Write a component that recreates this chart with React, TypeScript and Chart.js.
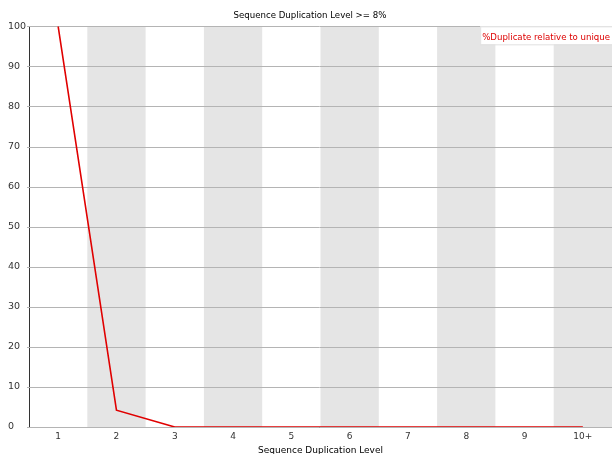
import React, { useEffect, useRef } from "react";
import { Chart, registerables } from "chart.js";

Chart.register(...registerables);

const categories = ["1", "2", "3", "4", "5", "6", "7", "8", "9", "10+"];
const duplicateRelative = [100, 4.2, 0, 0, 0, 0, 0, 0, 0, 0];
const yTicks = [0, 10, 20, 30, 40, 50, 60, 70, 80, 90, 100];
const titleText = "Sequence Duplication Level >= 8%";
const xTitleText = "Sequence Duplication Level";
const seriesLabel = "%Duplicate relative to unique";

const FONT = "'DejaVu Sans', sans-serif";

const bandsPlugin = {
  id: "bands",
  beforeDatasetsDraw(chart: any) {
    const { ctx, chartArea, scales } = chart;
    const x = scales.x;
    ctx.save();
    ctx.fillStyle = "#e5e5e5";
    categories.forEach((_, i) => {
      if (i % 2 === 1) {
        const c = x.getPixelForValue(i);
        const half = (x.getPixelForValue(1) - x.getPixelForValue(0)) / 2;
        ctx.fillRect(c - half, chartArea.top, half * 2, chartArea.bottom - chartArea.top);
      }
    });
    const y = scales.y;
    ctx.strokeStyle = "#b4b4b4";
    ctx.lineWidth = 1;
    yTicks.forEach((t) => {
      const py = Math.round(y.getPixelForValue(t)) + 0.5;
      ctx.beginPath();
      ctx.moveTo(chartArea.left - 2, py);
      ctx.lineTo(chartArea.right, py);
      ctx.stroke();
    });
    ctx.restore();
  },
};

const legendPlugin = {
  id: "customLegend",
  afterDatasetsDraw(chart: any) {
    const { ctx, chartArea } = chart;
    ctx.save();
    ctx.font = `8.6px ${FONT}`;
    const w = ctx.measureText(seriesLabel).width + 4;
    const h = 18;
    const x0 = chartArea.right - w;
    const y0 = chartArea.top;
    ctx.fillStyle = "#ffffff";
    ctx.fillRect(x0, y0, w, h);
    ctx.strokeStyle = "#e0e0e0";
    ctx.lineWidth = 1;
    ctx.strokeRect(x0 + 0.5, y0 + 0.5, w, h);
    ctx.fillStyle = "#dd0000";
    ctx.textBaseline = "middle";
    ctx.fillText(seriesLabel, x0 + 2, y0 + h / 2 + 2);
    // x axis title (partly cut at the bottom, like the reference)
    ctx.font = `9px ${FONT}`;
    ctx.fillStyle = "#000000";
    ctx.textAlign = "center";
    ctx.fillText(xTitleText, (chartArea.left + chartArea.right) / 2, chartArea.bottom + 24);
    ctx.restore();
  },
};

export default function App() {
  const ref = useRef<HTMLCanvasElement>(null);
  useEffect(() => {
    document.body.style.margin = "0";
    const chart = new Chart(ref.current!, {
      type: "line",
      data: {
        labels: categories,
        datasets: [
          {
            label: seriesLabel,
            data: duplicateRelative,
            borderColor: "#e00000",
            borderWidth: 1.6,
            pointRadius: 0,
            tension: 0,
            fill: false,
          },
        ],
      },
      options: {
        animation: false,
        responsive: false,
        devicePixelRatio: 1,
        layout: { padding: { top: 0, right: 0, left: 8, bottom: 0 } },
        plugins: {
          legend: { display: false },
          tooltip: { enabled: false },
          title: {
            display: true,
            text: titleText,
            color: "#000000",
            font: { family: FONT, size: 8.6, weight: "normal" },
            padding: { top: 11, bottom: 5 },
          },
        },
        scales: {
          x: {
            offset: true,
            grid: {
              display: false,
              drawTicks: true,
              tickLength: 3,
            },
            border: { display: true, color: "#555555", width: 1 },
            ticks: {
              color: "#333333",
              font: { family: FONT, size: 9 },
              padding: 1,
              maxRotation: 0,
            },
            afterFit(scale: any) {
              scale.height = 27;
            },
          },
          y: {
            min: 0,
            max: 100,
            afterBuildTicks(scale: any) {
              scale.ticks = yTicks.map((v) => ({ value: v }));
            },
            grid: {
              display: false,
            },
            border: { display: true, color: "#333333", width: 1 },
            ticks: {
              color: "#333333",
              font: { family: FONT, size: 9.5 },
              padding: 4,
              crossAlign: "far",
            },
            afterFit(scale: any) {
              scale.width = 21;
            },
          },
        },
      },
      plugins: [bandsPlugin, legendPlugin],
    });
    return () => chart.destroy();
  }, []);
  return (
    <div style={{ position: "absolute", left: 0, top: 0, width: 612, height: 454, background: "#fff" }}>
      <canvas ref={ref} width={612} height={454} style={{ display: "block" }} />
    </div>
  );
}
